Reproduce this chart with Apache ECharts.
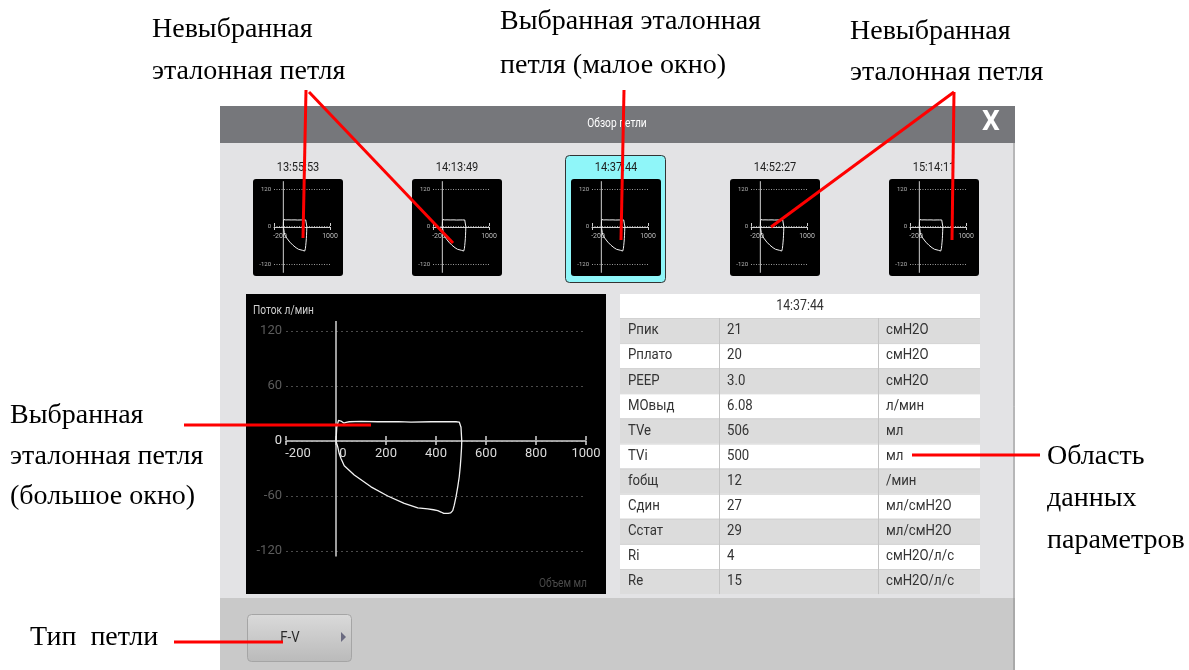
<!DOCTYPE html>
<html><head><meta charset="utf-8">
<script src="https://cdn.jsdelivr.net/npm/echarts@6/dist/echarts.min.js"></script>
<style>html,body{margin:0;padding:0;background:#fff}#c{width:1189px;height:670px}</style>
</head><body><div id="c"></div>
<script>
// ---------- DATA ----------
const thumbTimes = ['13:55:53', '14:13:49', '14:37:44', '14:52:27', '15:14:11'];
const selectedIndex = 2;
// flow-volume loop (volume ml, flow l/min), read from the large window
const loopVolume = [0, 3, 10, 20, 31, 40, 53, 100, 167, 250, 300, 380, 433, 480, 493, 500, 503, 502, 500, 497, 493, 487, 480, 473, 467, 458, 449, 440, 431, 420, 407, 390, 367, 327, 273, 207, 140, 73, 33, 20, 13, 7, 1, 0];
const loopFlow   = [0, 15, 22.5, 21.8, 19.6, 20.4, 21, 21.3, 21, 21.2, 20.7, 21, 21, 21, 20.7, 15, 0, -8, -17, -28, -39, -50, -61, -70, -76, -78.5, -79, -79, -79, -77.5, -76, -75, -74, -73, -68, -60, -50, -37, -27, -19, -14, -6.5, -1, 0];
const mainYLineFlow = [-126, 131];
const thumbYLineFlow = [-148, 145];
const xTickValues = [-200, 0, 200, 400, 600, 800, 1000];
const yTickValues = [-120, -60, 0, 60, 120];
const thumbXTickValues = [-200, 1000];
const thumbYTickValues = [-120, 0, 120];
const paramNames  = ['Рпик', 'Рплато', 'PEEP', 'МОвыд', 'TVe', 'TVi', 'fобщ', 'Сдин', 'Сстат', 'Ri', 'Re'];
const paramValues = ['21', '20', '3.0', '6.08', '506', '500', '12', '27', '29', '4', '15'];
const paramUnits  = ['смH2O', 'смH2O', 'смH2O', 'л/мин', 'мл', 'мл', '/мин', 'мл/смH2O', 'мл/смH2O', 'смH2O/л/с', 'смH2O/л/с'];
const loopTypes = ['F-V'];

// ---------- BUILD ----------
const UI = "Roboto,'Liberation Sans',Arial,sans-serif";
const SERIF = "'Liberation Serif','Times New Roman','DejaVu Serif',serif";
const chart = echarts.init(document.getElementById('c'), null, {renderer: 'canvas', width: 1189, height: 670});
const loopData = loopVolume.map((v, i) => [v, loopFlow[i]]);

const grids = [], xAxes = [], yAxes = [], series = [];

function addPlot(cfg) {
  // data grid
  const gData = grids.length;
  grids.push({left: cfg.left, top: cfg.top, width: cfg.width, height: cfg.height});
  const xData = xAxes.length;
  xAxes.push({gridIndex: gData, type: 'value', min: -200, max: 1000, interval: 200, show: false, axisLine: {onZero: false}});
  const yData = yAxes.length;
  yAxes.push({
    gridIndex: gData, type: 'value', min: -120, max: 120, interval: cfg.yInterval,
    axisLine: {show: false, onZero: false}, axisTick: {show: false},
    axisLabel: cfg.yLabel, splitLine: {show: true, lineStyle: cfg.split}
  });
  // axis grid: a 1px band whose bottom edge is the zero-flow line
  const gAxis = grids.length;
  grids.push({left: cfg.left, top: cfg.zeroY - 1, width: cfg.width, height: 1});
  xAxes.push({
    gridIndex: gAxis, type: 'value', min: -200, max: 1000, interval: 200,
    axisLine: {onZero: false, lineStyle: {color: cfg.axisColor, width: cfg.axisWidth}},
    axisTick: {show: true, length: cfg.tickLen, customValues: cfg.xTicks, lineStyle: {color: cfg.axisColor, width: cfg.axisWidth}},
    axisLabel: cfg.xLabel, splitLine: {show: false}
  });
  xAxes.push({
    gridIndex: gAxis, type: 'value', position: 'top', min: -200, max: 1000, interval: 200,
    axisLine: {show: false, onZero: false},
    axisTick: {show: true, length: cfg.tickLen, customValues: cfg.xTicks, lineStyle: {color: cfg.axisColor, width: cfg.axisWidth}},
    axisLabel: {show: false}, splitLine: {show: false}
  });
  yAxes.push({gridIndex: gAxis, type: 'value', min: 0, max: 1, show: false, axisLine: {onZero: false}});
  series.push({type: 'line', xAxisIndex: xData, yAxisIndex: yData, data: loopData, showSymbol: false, silent: true,
    lineStyle: {color: '#f2f2f2', width: cfg.loopWidth}, z: 5});
  series.push({type: 'line', xAxisIndex: xData, yAxisIndex: yData, data: cfg.yLine.map(f => [0, f]), showSymbol: false, clip: false,
    silent: true, lineStyle: {color: cfg.axisColor, width: cfg.axisWidth}, z: 4});
}

// main large window
addPlot({
  left: 286, top: 331, width: 300, height: 220, zeroY: 441, yInterval: 60,
  axisColor: '#d2d2d2', axisWidth: 1.5, tickLen: 4, loopWidth: 1.3, xTicks: xTickValues, yLine: mainYLineFlow,
  split: {color: '#4a4a4a', width: 1, type: [2, 3]},
  yLabel: {
    customValues: yTickValues, margin: 4, color: '#5c5c5c', fontSize: 13, fontFamily: UI,
    formatter: v => v === 0 ? '{b|0}' : String(v),
    rich: {b: {color: '#e0e0e0', fontSize: 13, fontFamily: UI}}
  },
  xLabel: {
    customValues: xTickValues, margin: 6, color: '#dcdcdc', fontSize: 13, fontFamily: UI,
    formatter: v => v === -200 ? '{m|-200}' : (v === 0 ? '{z|0}' : String(v)),
    rich: {
      m: {color: '#dcdcdc', fontSize: 13, fontFamily: UI, padding: [0, 0, 0, 24]},
      z: {color: '#dcdcdc', fontSize: 13, fontFamily: UI, padding: [0, 0, 0, 14]}
    }
  }
});

// thumbnails
const thumbLeft0 = 253, thumbStep = 159, thumbTop = 179, thumbW = 90, thumbH = 97;
thumbTimes.forEach((t, i) => {
  const bx = thumbLeft0 + thumbStep * i;
  addPlot({
    left: bx + 21, top: 189, width: 56, height: 75, zeroY: 227, yInterval: 120,
    axisColor: '#cfcfcf', axisWidth: 1, tickLen: 3, loopWidth: 1, xTicks: thumbXTickValues, yLine: thumbYLineFlow,
    split: {color: '#9a9a9a', width: 1, type: [1, 1.5]},
    yLabel: {customValues: thumbYTickValues, margin: 3, color: '#b5b5b5', fontSize: 6, fontFamily: UI},
    xLabel: {
      customValues: thumbXTickValues, margin: 6, color: '#bdbdbd', fontSize: 7, fontFamily: UI,
      formatter: v => v === -200 ? '{m|-200}' : String(v),
      rich: {m: {color: '#bdbdbd', fontSize: 7, fontFamily: UI, padding: [0, 0, 0, 12]}}
    }
  });
});

// ---------- graphic (UI frame, table, annotations) ----------
const g = [];
function txt(text, x, y, size, color, family, align, sx, weight) {
  return {type: 'text', z: 20, x: x, y: y, scaleX: sx || 1, style: {
    text: text, x: 0, y: 0, fill: color, font: (weight || 'normal') + ' ' + size + 'px ' + family,
    textAlign: align || 'left', textVerticalAlign: 'middle', align: align || 'left', verticalAlign: 'middle'
  }};
}
function rect(x, y, w, h, fill, z) {
  return {type: 'rect', z: z, shape: {x: x, y: y, width: w, height: h}, style: {fill: fill}};
}
function red(x1, y1, x2, y2) {
  return {type: 'line', z: 100, shape: {x1: x1, y1: y1, x2: x2, y2: y2}, style: {stroke: '#ff0000', lineWidth: 3}};
}
// frame
g.push(rect(220, 106, 795, 37, '#76777b', -10));
g.push(rect(220, 143, 795, 455, '#e3e3e5', -10));
g.push(rect(220, 598, 795, 72, '#c9c9c9', -10));
g.push({type: 'line', z: -9, shape: {x1: 1014, y1: 143, x2: 1014, y2: 670}, style: {stroke: '#8a8a8a', lineWidth: 1}});
g.push(txt('Обзор петли', 617, 124, 12, '#ffffff', UI, 'center', 0.85));
g.push(txt('X', 991, 123, 28, '#ffffff', UI, 'center', 1, 'bold'));
// thumbnails frames
g.push({type: 'rect', z: -9, shape: {x: 565.5, y: 155.5, width: 100, height: 127, r: 4}, style: {fill: '#8ff6f9', stroke: '#333', lineWidth: 1}});
thumbTimes.forEach((t, i) => {
  const bx = thumbLeft0 + thumbStep * i;
  g.push({type: 'rect', z: -8, shape: {x: bx, y: thumbTop, width: thumbW, height: thumbH, r: 3}, style: {fill: '#000'}});
  g.push(txt(t, bx + thumbW / 2, 168, 13, '#1e1e1e', UI, 'center', 0.85));
});
// main black window
g.push(rect(246, 294, 360, 300, '#000', -8));
g.push(txt('Поток л/мин', 253, 311, 12, '#cfcfcf', UI, 'left', 0.85));
g.push(txt('Объем мл', 587, 584, 12, '#4a4a4a', UI, 'right', 0.85));
// table
const tX = 620, tW = 360, hdrY = 294, hdrH = 24, rowY0 = 318, rowH = 25.1;
g.push(rect(tX, hdrY, tW, hdrH, '#ffffff', -7));
g.push(txt(thumbTimes[selectedIndex], tX + tW / 2, hdrY + hdrH / 2, 14, '#333', UI, 'center', 0.88));
paramNames.forEach((n, i) => {
  const y = rowY0 + i * rowH;
  g.push(rect(tX, y, tW, rowH, i % 2 === 0 ? '#dcdcdc' : '#ffffff', -7));
  g.push({type: 'line', z: -6, shape: {x1: tX, y1: y + 0.5, x2: tX + tW, y2: y + 0.5}, style: {stroke: '#d2d2d2', lineWidth: 1}});
  g.push(txt(n, 628, y + rowH / 2, 15, '#333', UI, 'left', 0.88));
  g.push(txt(paramValues[i], 727, y + rowH / 2, 15, '#333', UI, 'left', 0.88));
  g.push(txt(paramUnits[i], 886, y + rowH / 2, 15, '#333', UI, 'left', 0.88));
});
[719, 878].forEach(x => g.push({type: 'line', z: -6, shape: {x1: x + 0.5, y1: rowY0, x2: x + 0.5, y2: rowY0 + rowH * paramNames.length}, style: {stroke: '#c4c4c4', lineWidth: 1}}));
// button
g.push({type: 'rect', z: -5, shape: {x: 247.5, y: 614.5, width: 104, height: 47, r: 4},
  style: {fill: new echarts.graphic.LinearGradient(0, 0, 0, 1, [{offset: 0, color: '#dadada'}, {offset: 1, color: '#bababa'}]), stroke: '#a5a5a5', lineWidth: 1}});
g.push(txt(loopTypes[0], 290, 638, 15, '#2a2a2a', UI, 'center', 0.88));
g.push({type: 'polygon', z: 20, shape: {points: [[341, 632], [346, 637], [341, 642]]}, style: {fill: '#6a6a80'}});
// annotations
const AS = 28;
g.push(txt('Невыбранная', 152, 30, AS, '#000', SERIF, 'left'));
g.push(txt('эталонная петля', 152, 72, AS, '#000', SERIF, 'left'));
g.push(txt('Выбранная эталонная', 500, 22, AS, '#000', SERIF, 'left'));
g.push(txt('петля (малое окно)', 500, 66, AS, '#000', SERIF, 'left'));
g.push(txt('Невыбранная', 850, 32, AS, '#000', SERIF, 'left'));
g.push(txt('эталонная петля', 850, 73, AS, '#000', SERIF, 'left'));
g.push(txt('Выбранная', 10, 416, AS, '#000', SERIF, 'left'));
g.push(txt('эталонная петля', 10, 457, AS, '#000', SERIF, 'left'));
g.push(txt('(большое окно)', 10, 497, AS, '#000', SERIF, 'left'));
g.push(txt('Область', 1047, 457, AS, '#000', SERIF, 'left'));
g.push(txt('данных', 1047, 499, AS, '#000', SERIF, 'left'));
g.push(txt('параметров', 1047, 541, AS, '#000', SERIF, 'left'));
g.push(txt('Тип  петли', 30, 638, AS, '#000', SERIF, 'left'));
g.push(red(306, 90, 303, 238));
g.push(red(309, 92, 453, 243));
g.push(red(624, 90, 621, 240));
g.push(red(954, 92, 771, 227));
g.push(red(954, 92, 952, 240));
g.push(red(184, 425, 371, 425));
g.push(red(912, 455, 1040, 455));
g.push(red(174, 642, 283, 642));

chart.setOption({
  animation: false,
  backgroundColor: '#ffffff',
  grid: grids, xAxis: xAxes, yAxis: yAxes, series: series,
  graphic: {elements: g}
});
</script>
</body></html>
